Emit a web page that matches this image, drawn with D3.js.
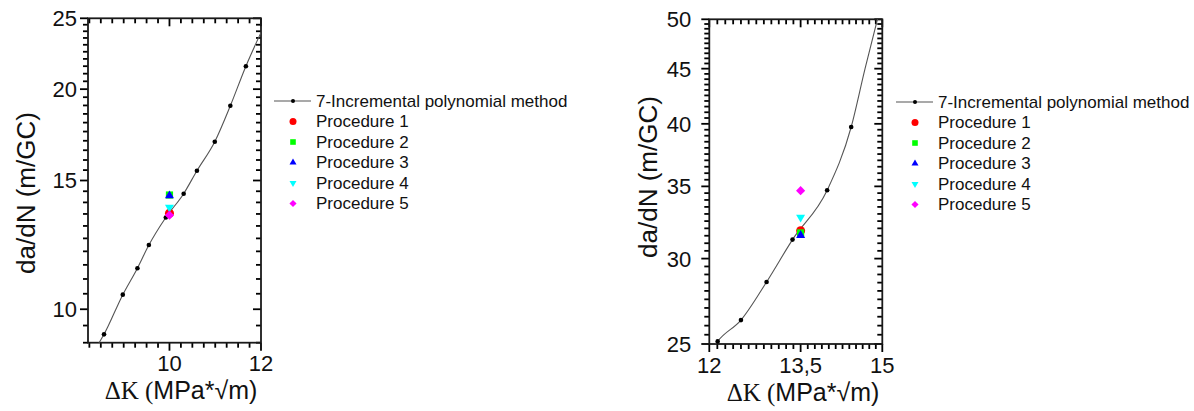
<!DOCTYPE html>
<html>
<head>
<meta charset="utf-8">
<script src="https://cdn.jsdelivr.net/npm/d3@7"></script>
<style>
  body { margin: 0; background: #fff; }
  svg text { font-family: 'Liberation Sans', Arial, sans-serif; fill: #111; }
</style>
</head>
<body>
<svg id="chart" width="1194" height="411"></svg>
<script>
// left panel: fit points (dK, da/dN)
const leftK = [8.57, 8.98, 9.30, 9.55, 9.92, 10.31, 10.60, 10.99, 11.33, 11.67];
const leftRate = [9.24, 10.47, 11.38, 12.24, 13.35, 14.39, 15.47, 16.95, 18.98, 21.5];
// where the fitted curve leaves the frame
const leftCurveEndsK = [8.45, 12.02];
const leftCurveEndsRate = [8.97, 24.05];

// right panel
const rightK = [12.13, 12.50, 12.92, 13.36, 13.97, 14.41];
const rightRate = [25.14, 26.31, 28.54, 31.24, 34.71, 39.73];
const rightCurveEndsK = [12.08, 14.92];
const rightCurveEndsRate = [24.9, 50.3];
// extra sample on the steep top part of the curve
const rightCurveMidK = [14.67];
const rightCurveMidRate = [45.0];

// procedures
const procedureNames = ['Procedure 1', 'Procedure 2', 'Procedure 3', 'Procedure 4', 'Procedure 5'];
const procedureColors = ['#ff0000', '#00ff00', '#0000ff', '#00ffff', '#ff00ff'];
const procedureSymbols = ['circle', 'square', 'up', 'down', 'diamond'];
const leftProcK = 10;
const leftProcRate = [13.53, 14.33, 14.30, 13.78, 13.45];
const rightProcK = 13.5;
const rightProcRate = [31.84, 31.69, 31.53, 32.76, 34.68];

// ticks
const leftXTicks = [10, 12];
const leftXLabels = ['10', '12'];
const leftYTicks = [10, 15, 20, 25];
const rightXTicks = [12, 13.5, 15];
const rightXLabels = ['12', '13,5', '15'];
const rightYTicks = [25, 30, 35, 40, 45, 50];

const methodName = '7-Incremental polynomial method';

const svg = d3.select('#chart');
svg.append('rect').attr('width', 1194).attr('height', 411).attr('fill', '#fff');

function range(a, b, step) {
  const out = [];
  for (let v = a; v <= b + 1e-9; v += step) out.push(+v.toFixed(4));
  return out;
}

// marker shapes, w = rough width in px
function marker(name, w) {
  if (name === 'circle') return { d: d3.symbol(d3.symbolCircle, Math.PI * (w / 2) * (w / 2))(), rot: 0 };
  if (name === 'square') return { d: d3.symbol(d3.symbolSquare, (w * 0.8) * (w * 0.8))(), rot: 0 };
  if (name === 'diamond') return { d: d3.symbol(d3.symbolSquare, (w * 0.72) * (w * 0.72))(), rot: 45 };
  const area = Math.sqrt(3) / 4 * w * w;
  return { d: d3.symbol(d3.symbolTriangle, area)(), rot: name === 'down' ? 180 : 0 };
}

function drawPanel(cfg) {
  const x = cfg.x, y = cfg.y;
  const [x0, x1] = x.range();
  const [y0, y1] = y.range(); // y0 bottom, y1 top
  const g = svg.append('g');
  const axisColor = '#000';

  const clipId = 'clip' + cfg.id;
  svg.append('clipPath').attr('id', clipId)
    .append('rect').attr('x', x0).attr('y', y1).attr('width', x1 - x0).attr('height', y0 - y1);

  // tick marks: bottom/left point out, top/right point in
  const xMinor = cfg.xMinor.filter(v => cfg.xTicks.indexOf(v) < 0);
  const yMinor = cfg.yMinor.filter(v => cfg.yTicks.indexOf(v) < 0);
  const xTickData = xMinor.map(v => ({ v, len: 5 })).concat(cfg.xTicks.map(v => ({ v, len: 8 })));
  const yTickData = yMinor.map(v => ({ v, len: 5 })).concat(cfg.yTicks.map(v => ({ v, len: 8 })));

  const ticks = g.append('g').attr('stroke', axisColor).attr('stroke-width', 1.8);
  ticks.selectAll('.xb').data(xTickData).enter().append('line')
    .attr('x1', d => x(d.v)).attr('x2', d => x(d.v))
    .attr('y1', y0).attr('y2', d => y0 + d.len);
  ticks.selectAll('.xt').data(xTickData).enter().append('line')
    .attr('x1', d => x(d.v)).attr('x2', d => x(d.v))
    .attr('y1', y1).attr('y2', d => y1 + d.len);
  ticks.selectAll('.yl').data(yTickData).enter().append('line')
    .attr('y1', d => y(d.v)).attr('y2', d => y(d.v))
    .attr('x1', x0).attr('x2', d => x0 - d.len);
  ticks.selectAll('.yr').data(yTickData).enter().append('line')
    .attr('y1', d => y(d.v)).attr('y2', d => y(d.v))
    .attr('x1', x1).attr('x2', d => x1 - d.len);

  // tick labels
  g.append('g').selectAll('text')
    .data(cfg.xTicks)
    .enter().append('text')
    .attr('x', d => x(d))
    .attr('y', y0 + 28.5)
    .attr('text-anchor', 'middle')
    .attr('font-size', 22)
    .text((d, i) => cfg.xLabels[i]);
  g.append('g').selectAll('text')
    .data(cfg.yTicks)
    .enter().append('text')
    .attr('x', x0 - cfg.yPad)
    .attr('y', d => y(d))
    .attr('dy', '0.36em')
    .attr('text-anchor', 'end')
    .attr('font-size', 22)
    .text(d => d);

  // frame
  g.append('rect')
    .attr('x', x0).attr('y', y1).attr('width', x1 - x0).attr('height', y0 - y1)
    .attr('fill', 'none').attr('stroke', '#1a1a1a').attr('stroke-width', 1.8);

  // fitted curve
  g.append('path')
    .attr('clip-path', `url(#${clipId})`)
    .attr('d', d3.line().x(d => x(d[0])).y(d => y(d[1])).curve(d3.curveMonotoneX)(cfg.curve))
    .attr('fill', 'none').attr('stroke', '#555').attr('stroke-width', 1.1);

  g.append('g').selectAll('circle')
    .data(cfg.dots)
    .enter().append('circle')
    .attr('cx', d => x(d[0]))
    .attr('cy', d => y(d[1]))
    .attr('r', 2.3)
    .attr('fill', '#000');

  // procedure points
  g.append('g').selectAll('path')
    .data(cfg.procRate)
    .enter().append('path')
    .each(function(d, i) {
      const m = marker(procedureSymbols[i], 9);
      d3.select(this)
        .attr('d', m.d)
        .attr('transform', `translate(${x(cfg.procK)},${y(d)}) rotate(${m.rot})`)
        .attr('fill', procedureColors[i]);
    });

  // axis titles
  svg.append('text')
    .attr('transform', `translate(${cfg.yTitleX},${cfg.yTitleY}) rotate(-90)`)
    .attr('text-anchor', 'middle')
    .attr('font-size', 26)
    .text('da/dN (m/GC)');

  const xt = svg.append('text')
    .attr('x', cfg.xTitleX).attr('y', cfg.xTitleY)
    .attr('text-anchor', 'middle')
    .attr('font-size', 25);
  xt.append('tspan').attr('font-family', "'Liberation Serif', 'Times New Roman', serif").text('ΔK (');
  xt.append('tspan').text('MPa*√m)');

  // legend
  const lg = svg.append('g').attr('transform', `translate(${cfg.legendX},${cfg.legendY})`);
  const rowH = 20.5;
  lg.append('line').attr('x1', 0).attr('x2', 37).attr('y1', 0).attr('y2', 0)
    .attr('stroke', '#555').attr('stroke-width', 1.1);
  lg.append('circle').attr('cx', 19).attr('cy', 0).attr('r', 2).attr('fill', '#000');
  lg.append('text').attr('x', 42).attr('y', 0).attr('dy', '0.35em').attr('font-size', 17).text(methodName);

  const rows = lg.selectAll('.row')
    .data(procedureNames)
    .enter().append('g')
    .attr('class', 'row')
    .attr('transform', (d, i) => `translate(0,${(i + 1) * rowH})`);
  rows.append('path')
    .each(function(d, i) {
      const m = marker(procedureSymbols[i], 7);
      d3.select(this)
        .attr('d', m.d)
        .attr('transform', `translate(19,0) rotate(${m.rot})`)
        .attr('fill', procedureColors[i]);
    });
  rows.append('text').attr('x', 42).attr('y', 0).attr('dy', '0.35em').attr('font-size', 17).text(d => d);
}

const leftCurve = [[leftCurveEndsK[0], leftCurveEndsRate[0]]]
  .concat(leftK.map((k, i) => [k, leftRate[i]]))
  .concat([[leftCurveEndsK[1], leftCurveEndsRate[1]]]);

const rightCurve = [[rightCurveEndsK[0], rightCurveEndsRate[0]]]
  .concat(rightK.map((k, i) => [k, rightRate[i]]))
  .concat(rightCurveMidK.map((k, i) => [k, rightCurveMidRate[i]]))
  .concat([[rightCurveEndsK[1], rightCurveEndsRate[1]]]);

drawPanel({
  id: 'L',
  x: d3.scaleLinear().domain([8.22, 12]).range([88, 261]),
  y: d3.scaleLog().domain([9, 25]).range([342.7, 18.3]),
  xTicks: leftXTicks, xLabels: leftXLabels, xMinor: range(8.25, 12, 0.25),
  yTicks: leftYTicks, yMinor: range(9, 25, 0.5),
  yPad: 11,
  curve: leftCurve,
  dots: leftK.map((k, i) => [k, leftRate[i]]),
  procK: leftProcK, procRate: leftProcRate,
  yTitleX: 35, yTitleY: 193,
  xTitleX: 181, xTitleY: 399,
  legendX: 274, legendY: 101
});

drawPanel({
  id: 'R',
  x: d3.scaleLog().domain([12, 15]).range([709.3, 882.3]),
  y: d3.scaleLog().domain([25, 50]).range([344, 19.3]),
  xTicks: rightXTicks, xLabels: rightXLabels, xMinor: range(12, 15, 0.125),
  yTicks: rightYTicks, yMinor: range(25, 50, 0.5),
  yPad: 18,
  curve: rightCurve,
  dots: rightK.map((k, i) => [k, rightRate[i]]),
  procK: rightProcK, procRate: rightProcRate,
  yTitleX: 657, yTitleY: 177,
  xTitleX: 803, xTitleY: 401,
  legendX: 896, legendY: 102
});
</script>
</body>
</html>
